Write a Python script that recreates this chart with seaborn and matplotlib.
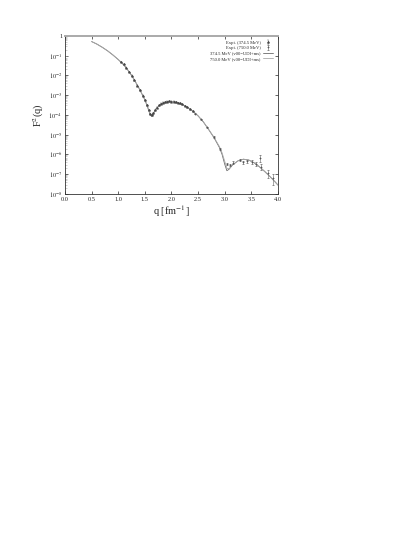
"""Elastic form factor F^2(q) vs momentum transfer, data vs theory."""

import numpy as np
import pandas as pd
import matplotlib
matplotlib.use("Agg")
import matplotlib.pyplot as plt
import seaborn as sns
from matplotlib.ticker import LogLocator, NullFormatter, FixedLocator

# --- theory curves (log10 F^2) ----------------------------------------------
q_theory = [0.50, 0.60, 0.70, 0.80, 0.90, 1.00, 1.10, 1.20, 1.30, 1.40, 1.50,
            1.55, 1.60, 1.63, 1.66, 1.70, 1.80, 1.90, 2.00, 2.10, 2.20, 2.30,
            2.40, 2.50, 2.60, 2.70, 2.80, 2.90, 2.95, 3.00, 3.04, 3.08, 3.15,
            3.25, 3.35, 3.45, 3.55, 3.65, 3.75, 3.85, 3.95, 4.00]
log_f2_374 = [-0.29, -0.42, -0.58, -0.76, -0.97, -1.20, -1.46, -1.80, -2.22,
              -2.70, -3.24, -3.60, -4.00, -4.07, -3.95, -3.72, -3.45, -3.34,
              -3.31, -3.36, -3.47, -3.62, -3.81, -4.05, -4.36, -4.75, -5.16,
              -5.65, -6.00, -6.50, -6.82, -6.75, -6.52, -6.32, -6.24, -6.28,
              -6.42, -6.62, -6.86, -7.12, -7.40, -7.55]
log_f2_750 = [-0.29, -0.42, -0.58, -0.76, -0.97, -1.20, -1.46, -1.80, -2.21,
              -2.69, -3.22, -3.56, -3.93, -4.02, -3.93, -3.71, -3.45, -3.34,
              -3.31, -3.36, -3.47, -3.62, -3.81, -4.05, -4.36, -4.74, -5.14,
              -5.60, -5.92, -6.35, -6.70, -6.72, -6.52, -6.32, -6.24, -6.28,
              -6.42, -6.62, -6.86, -7.12, -7.40, -7.55]

# --- experimental points -----------------------------------------------------
q_exp_374 = [1.06, 1.10, 1.15, 1.20, 1.25, 1.30, 1.36, 1.41, 1.46, 1.50, 1.54,
             1.57, 1.60, 1.63, 1.66, 1.69, 1.72, 1.76, 1.80, 1.84, 1.88, 1.92,
             1.96, 2.00, 2.04, 2.08, 2.12, 2.16, 2.20, 2.25, 2.30, 2.35, 2.40]
log_exp_374 = [-1.32, -1.45, -1.62, -1.83, -2.02, -2.24, -2.52, -2.76, -3.02,
               -3.25, -3.52, -3.75, -3.95, -4.02, -3.92, -3.76, -3.63, -3.52,
               -3.44, -3.38, -3.35, -3.33, -3.32, -3.33, -3.34, -3.36, -3.40,
               -3.42, -3.47, -3.55, -3.62, -3.71, -3.82]
rel_err_374 = [0.05] * len(q_exp_374)

q_exp_750 = [2.45, 2.55, 2.66, 2.79, 2.91, 3.04, 3.10, 3.16, 3.28, 3.35, 3.41,
             3.52, 3.58, 3.66, 3.68, 3.82, 3.91]
log_exp_750 = [-3.93, -4.22, -4.62, -5.12, -5.70, -6.48, -6.52, -6.42, -6.27,
               -6.40, -6.34, -6.38, -6.48, -6.18, -6.62, -6.95, -7.20]
rel_err_750 = [0.05, 0.06, 0.08, 0.10, 0.12, 0.15, 0.15, 0.18, 0.15, 0.20,
               0.20, 0.20, 0.25, 0.35, 0.35, 0.40, 0.55]

labels = ["Expt. (374.5 MeV)", "Expt. (750.0 MeV)",
          "374.5 MeV (v00=UDI+ms)", "750.0 MeV (v00=UDI+ms)"]


def main() -> int:
    sns.set_style("ticks")
    plt.rcParams["font.family"] = ["Liberation Serif", "DejaVu Serif"]
    plt.rcParams["mathtext.fontset"] = "stix"

    fig = plt.figure(figsize=(4.15, 5.37), dpi=100)
    ax = fig.add_axes([0.1566, 0.6387, 0.5133, 0.2946])

    theory = pd.DataFrame({
        "q": q_theory * 2,
        "F2": list(10 ** np.array(log_f2_374)) + list(10 ** np.array(log_f2_750)),
        "set": [labels[2]] * len(q_theory) + [labels[3]] * len(q_theory),
    })
    sns.lineplot(data=theory, x="q", y="F2", hue="set",
                 palette=["#6a6a6a", "#a8a8a8"], linewidth=0.6, ax=ax,
                 legend=False)

    y374 = 10 ** np.array(log_exp_374)
    y750 = 10 ** np.array(log_exp_750)
    h1 = ax.errorbar(q_exp_374, y374, yerr=y374 * np.array(rel_err_374),
                     fmt="*", ms=2.0, mew=0.3, color="#444444",
                     ecolor="#555555", elinewidth=0.4, capsize=0.8,
                     capthick=0.4)
    h2 = ax.errorbar(q_exp_750, y750, yerr=y750 * np.array(rel_err_750),
                     fmt="+", ms=2.0, mew=0.5, color="#555555",
                     ecolor="#666666", elinewidth=0.4, capsize=1.0,
                     capthick=0.4)
    l3, = ax.plot([], [], color="#6a6a6a", lw=0.6)
    l4, = ax.plot([], [], color="#a8a8a8", lw=0.6)

    ax.set_yscale("log")
    ax.set_xlim(0.0, 4.0)
    ax.set_ylim(1e-8, 1.0)
    ax.xaxis.set_major_locator(FixedLocator(np.arange(0, 4.01, 0.5)))
    ax.set_xticklabels([f"{v:.1f}" for v in np.arange(0, 4.01, 0.5)])
    ax.yaxis.set_minor_locator(LogLocator(base=10, subs=np.arange(2, 10) * 1.0,
                                          numticks=12))
    ax.yaxis.set_minor_formatter(NullFormatter())
    ax.set_yticks([10.0 ** k for k in range(-8, 1)])
    ax.set_yticklabels(["$10^{%d}$" % k for k in range(-8, 0)] + ["1"])

    ax.tick_params(axis="both", which="major", direction="in", length=2.5,
                   width=0.5, labelsize=4.6, top=True, right=True, pad=2)
    ax.tick_params(axis="y", which="minor", direction="in", length=1.5,
                   width=0.4, color="#aaaaaa", right=False)
    for spine in ax.spines.values():
        spine.set_linewidth(0.6)
        spine.set_color("#333333")
    ax.spines["top"].set_color("#aaaaaa")
    ax.spines["top"].set_linewidth(1.4)

    ax.set_xlabel("q [fm$^{-1}$]", fontsize=7.5, labelpad=1)
    ax.set_ylabel("F$^2$(q)", fontsize=7.5, labelpad=2)

    leg = ax.legend([h1, h2, l3, l4], labels, loc="upper right",
                    fontsize=3.3, frameon=False, markerfirst=False,
                    handlelength=2.2, handletextpad=0.6, labelspacing=0.25,
                    borderaxespad=0.6)
    for t in leg.get_texts():
        t.set_ha("right")

    fig.savefig("out.png", dpi=100)
    plt.close(fig)
    return 0


if __name__ == "__main__":
    raise SystemExit(main())
